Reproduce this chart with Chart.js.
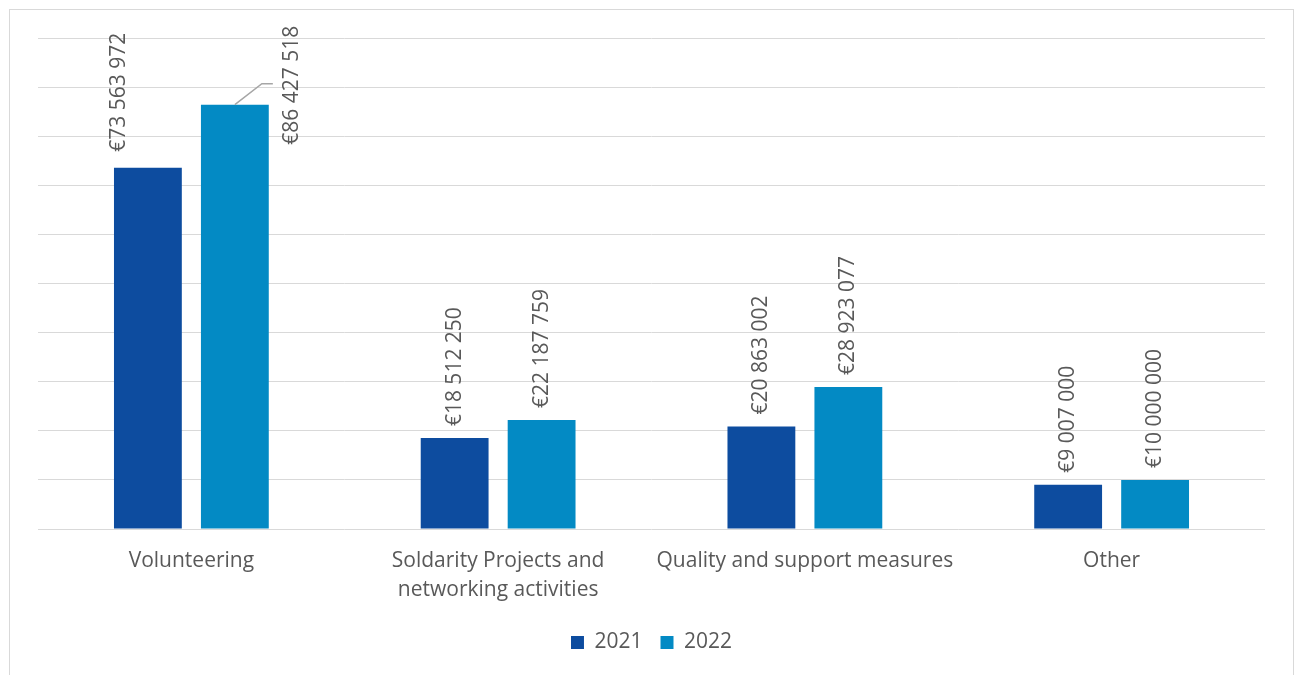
<!DOCTYPE html>
<html>
<head>
<meta charset="utf-8">
<script src="https://cdn.jsdelivr.net/npm/chart.js@4.4.0/dist/chart.umd.min.js"></script>
<style>
  body { margin: 0; background: #fff; }
  #frame { position: absolute; left: 9px; top: 9px; width: 1283px; height: 700px; border: 1px solid #D9D9D9; }
  #wrap { position: absolute; left: 0; top: 0; width: 1295px; height: 675px; }
</style>
</head>
<body>
<div id="frame"></div>
<div id="wrap"><canvas id="chart" width="1295" height="675"></canvas></div>
<script>
// Categories and series
const categories = [
  'Volunteering',
  ['Soldarity Projects and', 'networking activities'],
  'Quality and support measures',
  'Other'
];
const values2021 = [73563972, 18512250, 20863002, 9007000];
const values2022 = [86427518, 22187759, 28923077, 10000000];
const seriesNames = ['2021', '2022'];
const yTicks = [0, 10000000, 20000000, 30000000, 40000000, 50000000, 60000000, 70000000, 80000000, 90000000, 100000000];

const textColor = '#595959';
const fontFamily = '"Open Sans", sans-serif';

function euro(v) {
  return '€' + String(v).replace(/\B(?=(\d{3})+(?!\d))/g, ' ');
}

// label nudges (dataset index - category index)
const labelNudge = {
  '0-0': { dx: -29, dy: -4 },
  '1-0': { dx: 57, dy: 52, leader: true }
};

const barLabels = {
  id: 'barLabels',
  afterDatasetsDraw(chart) {
    const ctx = chart.ctx;
    ctx.save();
    ctx.font = '21px ' + fontFamily;
    ctx.fillStyle = textColor;
    chart.data.datasets.forEach((ds, di) => {
      const meta = chart.getDatasetMeta(di);
      meta.data.forEach((bar, i) => {
        const n = labelNudge[di + '-' + i] || { dx: 0, dy: 0 };
        const x = bar.x + n.dx;
        const y = bar.y - 12 + n.dy;
        if (n.leader) {
          ctx.strokeStyle = '#A6A6A6';
          ctx.lineWidth = 1.5;
          ctx.beginPath();
          ctx.moveTo(bar.x, bar.y);
          ctx.lineTo(bar.x + 27, bar.y - 21);
          ctx.lineTo(bar.x + 38, bar.y - 21);
          ctx.stroke();
        }
        ctx.save();
        ctx.translate(x, y);
        ctx.rotate(-Math.PI / 2);
        ctx.textAlign = 'left';
        ctx.textBaseline = 'middle';
        ctx.fillText(euro(ds.data[i]), 0, 0);
        ctx.restore();
      });
    });
    ctx.restore();
  }
};

new Chart(document.getElementById('chart'), {
  type: 'bar',
  data: {
    labels: categories,
    datasets: [
      { label: seriesNames[0], data: values2021, backgroundColor: '#0D4C9F' },
      { label: seriesNames[1], data: values2022, backgroundColor: '#038AC4' }
    ]
  },
  options: {
    responsive: false,
    animation: false,
    datasets: { bar: { categoryPercentage: 0.567, barPercentage: 0.78 } },
    layout: { padding: { left: 38, right: 30, top: 38, bottom: 12 } },
    plugins: {
      legend: {
        position: 'bottom',
        labels: {
          boxWidth: 13, boxHeight: 13, padding: 18,
          color: textColor,
          font: { family: fontFamily, size: 21 }
        }
      },
      tooltip: { enabled: false }
    },
    scales: {
      x: {
        grid: { display: false },
        border: { display: false },
        ticks: {
          color: textColor,
          font: { family: fontFamily, size: 21, lineHeight: 29 / 21 },
          padding: 10,
          maxRotation: 0,
          autoSkip: false
        },
        afterFit(scale) { scale.height = 85; }
      },
      y: {
        min: 0,
        max: 100000000,
        afterBuildTicks(scale) { scale.ticks = yTicks.map(v => ({ value: v })); },
        ticks: { display: false },
        grid: { color: '#D9D9D9', drawTicks: false, lineWidth: 1 },
        border: { display: false }
      }
    }
  },
  plugins: [barLabels]
});
</script>
</body>
</html>
